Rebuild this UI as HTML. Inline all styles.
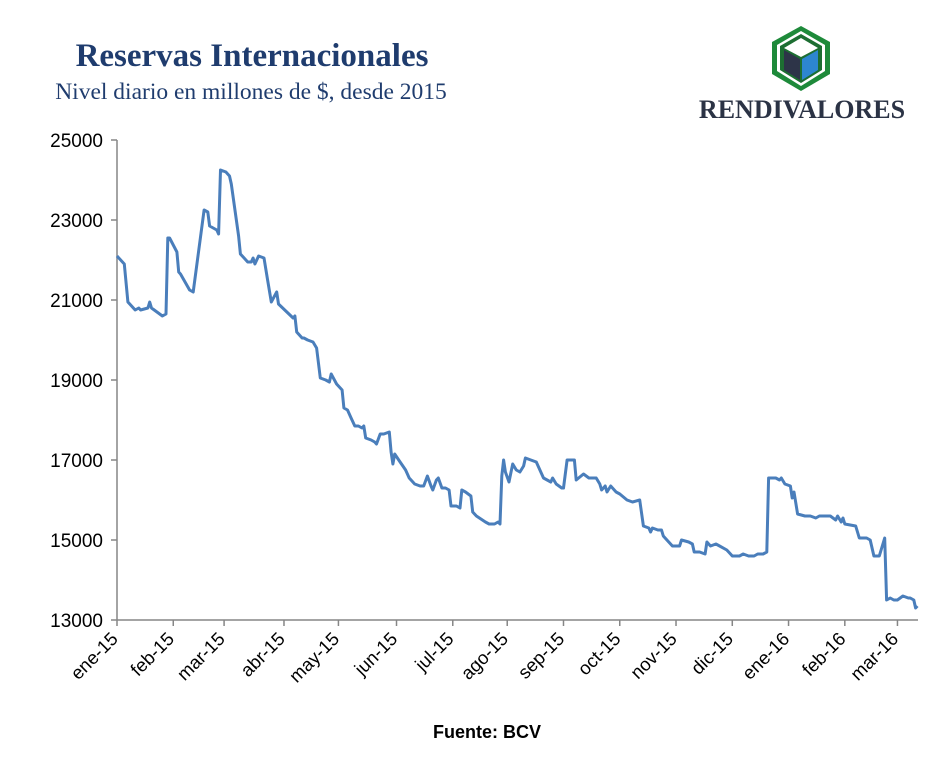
<!DOCTYPE html>
<html><head><meta charset="utf-8"><style>
body{margin:0;background:#fff;}
svg text{font-family:"Liberation Sans",sans-serif;}
</style></head><body>
<svg width="952" height="756" viewBox="0 0 952 756">
<text x="252" y="66" text-anchor="middle" style="font-family:'Liberation Serif',serif;font-weight:bold;font-size:33px;fill:#1f3c6e">Reservas Internacionales</text>
<text x="251" y="99" text-anchor="middle" style="font-family:'Liberation Serif',serif;font-size:23.5px;fill:#1f3c6e">Nivel diario en millones de $, desde 2015</text>
<g>
<polygon points="801,26 830,42 830,74 801,91 772,74 772,42" fill="#1e8a3a"/>
<polygon points="801,31 825,45 825,71 801,86 777,71 777,45" fill="#fff"/>
<polygon points="801,34 822,46 822,70 801,83 780,70 780,46" fill="#1d6e32"/>
<polygon points="801,38 818,48 801,57 784,48" fill="#fff"/>
<polygon points="784,50 800,59 800,80 784,70" fill="#2d3448"/>
<polygon points="802,59 818,50 818,70 802,80" fill="#2d86d0"/>
<text x="802" y="118" text-anchor="middle" style="font-family:'Liberation Serif',serif;font-weight:bold;font-size:26px;fill:#2b3345">RENDIVALORES</text>
</g>
<g id="axes"></g>
<path id="line" fill="none" stroke="#4a7ebb" stroke-width="3" stroke-linejoin="round"/>
<text x="487" y="738" text-anchor="middle" style="font-weight:bold;font-size:18px;fill:#000">Fuente: BCV</text>
</svg>
<script>
const days=[0,4,6,10,12,13,17,18,19,25,27,28,29,33,34,35,40,42,48,50,51,55,56,57,60,62,63,67,68,70,72,74,75,76,78,81,83,85,88,89,97,98,99,102,103,105,108,110,112,115,117,118,121,124,125,127,129,131,133,135,136,137,140,142,143,145,147,150,151,152,153,156,159,161,164,167,169,171,173,174,176,177,179,181,183,184,187,189,190,192,195,196,198,203,205,208,210,211,212,213,214,216,218,220,222,224,225,228,231,234,235,239,240,242,245,246,248,252,253,257,260,264,266,267,269,270,272,273,275,277,281,284,288,290,293,294,295,298,300,301,302,306,310,311,315,317,318,321,324,325,327,330,332,336,338,339,343,345,348,351,353,356,358,359,363,365,366,368,371,372,373,375,379,382,385,387,393,396,397,399,400,401,407,409,411,413,415,417,420,423,424,426,428,430,433,436,437,439,440,441];
const values=[22100,21900,20950,20750,20800,20750,20800,20950,20800,20600,20650,22550,22550,22200,21700,21650,21250,21200,23250,23200,22850,22750,22650,24250,24200,24100,23900,22600,22150,22050,21950,21950,22050,21900,22100,22050,21500,20950,21200,20900,20550,20600,20200,20050,20050,20000,19950,19800,19050,19000,18950,19150,18900,18750,18300,18250,18050,17850,17850,17800,17850,17550,17500,17450,17400,17650,17650,17700,17200,16900,17150,16950,16750,16550,16400,16350,16350,16600,16350,16250,16500,16550,16300,16300,16250,15850,15850,15800,16250,16200,16100,15700,15600,15450,15400,15400,15450,15400,16600,17000,16700,16450,16900,16750,16700,16850,17050,17000,16950,16650,16550,16450,16550,16400,16300,16300,17000,17000,16500,16650,16550,16550,16400,16250,16350,16200,16350,16300,16200,16150,16000,15950,16000,15350,15300,15200,15300,15250,15250,15100,15050,14850,14850,15000,14950,14900,14700,14700,14650,14950,14850,14900,14850,14750,14650,14600,14600,14650,14600,14600,14650,14650,14700,16550,16550,16500,16550,16400,16350,16050,16200,15650,15600,15600,15550,15600,15600,15500,15600,15450,15550,15400,15350,15050,15050,15050,15000,14600,14600,15050,13500,13550,13500,13500,13600,13550,13550,13500,13300,13350];
const yTicks=[13000,15000,17000,19000,21000,23000,25000];
const xTickLabels=["ene-15","feb-15","mar-15","abr-15","may-15","jun-15","jul-15","ago-15","sep-15","oct-15","nov-15","dic-15","ene-16","feb-16","mar-16"];
const xTickDays=[0,31,59,92,122,154,185,215,246,277,308,339,370,401,430];
const X0=117,Y0=620,Y1=140,XEND=918;
const x=d=>X0+d*1.815;
const y=v=>Y0-(v-13000)/(12000)*(Y0-Y1);
const NS="http://www.w3.org/2000/svg";
const g=document.getElementById('axes');
function mk(tag,attrs){const e=document.createElementNS(NS,tag);for(const k in attrs)e.setAttribute(k,attrs[k]);g.appendChild(e);return e;}
let e=mk('line',{x1:X0,y1:Y1,x2:X0,y2:Y0,stroke:'#868686','stroke-width':1.5});


e=mk('line',{x1:X0,y1:Y0,x2:XEND,y2:Y0,stroke:'#868686','stroke-width':1.5});


yTicks.forEach(v=>{
 mk('line',{x1:X0-6,y1:y(v),x2:X0,y2:y(v),stroke:'#868686','stroke-width':1.5});
 const t=mk('text',{x:X0-14,y:y(v)+7,'text-anchor':'end','font-size':19,fill:'#000'});
 t.textContent=v;
 
 
});
xTickDays.forEach((d,i)=>{
 const px=x(d);
 mk('line',{x1:px,y1:Y0,x2:px,y2:Y0+6,stroke:'#868686','stroke-width':1.5});
 const t=mk('text',{x:px+2,y:Y0+20,'text-anchor':'end','font-size':18.5,fill:'#000',transform:`rotate(-45 ${px+2} ${Y0+20})`});
 t.textContent=xTickLabels[i];
 
 
});
document.getElementById('line').setAttribute('d',days.map((d,i)=>(i?'L':'M')+x(d).toFixed(1)+','+y(values[i]).toFixed(1)).join(''));
</script>
</body></html>
